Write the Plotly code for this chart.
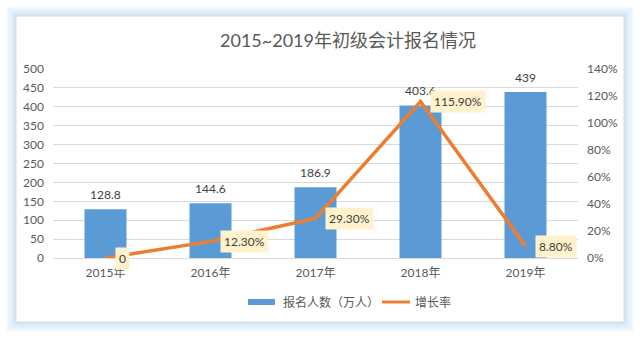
import plotly.graph_objects as go

# ---- data ----
years = ["2015年", "2016年", "2017年", "2018年", "2019年"]
applicants = [128.8, 144.6, 186.9, 403.6, 439]      # 报名人数（万人）
growth_pct = [0, 12.3, 29.3, 115.9, 8.8]            # 增长率 (%)
left_ticks = list(range(0, 501, 50))
right_ticks = list(range(0, 141, 20))
right_tick_text = [f"{t}%" for t in right_ticks]

# ---- geometry (pixels) ----
W, H = 640, 338
L, R, T, B = 53, 578, 69, 258

def px(x):
    return (x - L) / (R - L)

def py(y):
    return (B - y) / (B - T)

FONT = "Lato, Noto Sans CJK SC, sans-serif"
BLUE = "#5B9BD5"
ORANGE = "#ED7D31"
GRID = "#D9D9D9"
TXT = "#595959"
DARK = "#404040"

fig = go.Figure()

fig.add_trace(go.Bar(
    x=years, y=applicants, name="报名人数（万人）",
    marker=dict(color=BLUE, line=dict(width=0)),
    yaxis="y", showlegend=False,
))
fig.add_trace(go.Scatter(
    x=years, y=growth_pct, name="增长率", mode="lines",
    line=dict(color=ORANGE, width=3.5),
    yaxis="y2", showlegend=False,
))

annotations = []
# value labels above bars
for cat, v in zip(years, applicants):
    annotations.append(dict(
        x=cat, y=v, xref="x", yref="y", text=f"{v:g}", showarrow=False,
        yshift=15, font=dict(family=FONT, size=12, color=DARK),
    ))
# growth-rate labels in yellow boxes
for cat, r in zip(years, growth_pct):
    label = "0" if r == 0 else f"{r:.2f}%"
    annotations.append(dict(
        x=cat, y=r, xref="x", yref="y2", text=label, showarrow=False,
        xanchor="left", yanchor="middle", xshift=9,
        bgcolor="#FFF2CC", borderpad=3,
        font=dict(family=FONT, size=12, color=DARK),
    ))
# title
annotations.append(dict(
    x=px(348), y=py(40), xref="paper", yref="paper",
    text="2015~2019年初级会计报名情况", showarrow=False,
    xanchor="center", yanchor="middle",
    font=dict(family=FONT, size=18, color=TXT),
))
# custom legend
annotations.append(dict(
    x=px(281), y=py(302), xref="paper", yref="paper", text="报名人数（万人）",
    showarrow=False, xanchor="left", yanchor="middle",
    font=dict(family=FONT, size=12, color=TXT),
))
annotations.append(dict(
    x=px(413), y=py(302), xref="paper", yref="paper", text="增长率",
    showarrow=False, xanchor="left", yanchor="middle",
    font=dict(family=FONT, size=12, color=TXT),
))

shapes = []
# soft blue glow around the card
for d in [10, 8, 6, 4, 2]:
    shapes.append(dict(
        type="rect", xref="paper", yref="paper", layer="below",
        x0=px(16 - d), x1=px(624 + d), y0=py(322 + d), y1=py(16 - d),
        fillcolor="rgba(91,155,213,0.055)", line=dict(width=0),
    ))
# card
shapes.append(dict(
    type="rect", xref="paper", yref="paper", layer="below",
    x0=px(16), x1=px(624), y0=py(322), y1=py(16),
    fillcolor="white", line=dict(color=GRID, width=1),
))
# legend keys
shapes.append(dict(
    type="rect", xref="paper", yref="paper",
    x0=px(248), x1=px(275), y0=py(305), y1=py(299),
    fillcolor=BLUE, line=dict(width=0),
))
shapes.append(dict(
    type="line", xref="paper", yref="paper",
    x0=px(382), x1=px(410), y0=py(302), y1=py(302),
    line=dict(color=ORANGE, width=3),
))

fig.update_layout(
    width=W, height=H,
    margin=dict(l=L, r=W - R, t=T, b=H - B, pad=0),
    paper_bgcolor="white", plot_bgcolor="rgba(0,0,0,0)",
    bargap=0.6,
    font=dict(family=FONT, color=TXT),
    xaxis=dict(
        showgrid=False, showline=False, zeroline=False,
        tickfont=dict(size=12, color=TXT), ticks="", ticklabelstandoff=6,
    ),
    yaxis=dict(
        range=[0, 500], tickmode="array", tickvals=left_ticks,
        showgrid=True, gridcolor=GRID,
        gridwidth=1, zeroline=True, zerolinecolor=GRID, zerolinewidth=1,
        showline=False, ticks="", tickfont=dict(size=12, color=TXT),
        ticklabelstandoff=8,
    ),
    yaxis2=dict(
        range=[0, 140], tickmode="array", tickvals=right_ticks,
        ticktext=right_tick_text,
        overlaying="y", side="right", showgrid=False, zeroline=False,
        showline=False, ticks="", tickfont=dict(size=12, color=TXT),
        ticklabelstandoff=8,
    ),
    annotations=annotations,
    shapes=shapes,
    showlegend=False,
)

fig.write_html("out.html")
